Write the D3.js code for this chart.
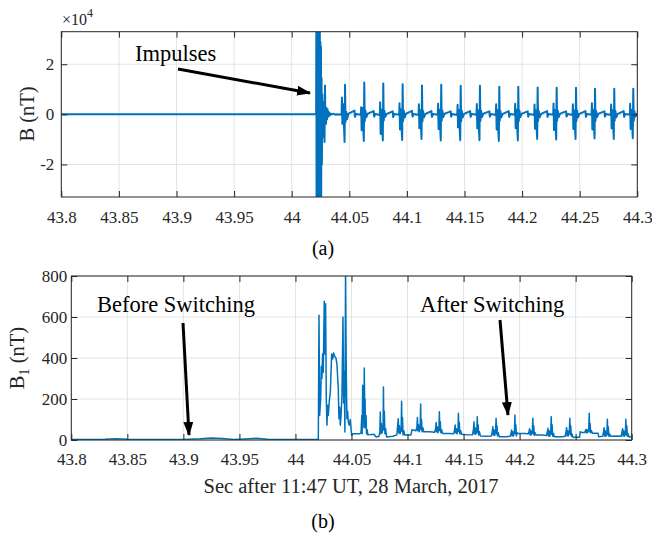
<!DOCTYPE html>
<html>
<head>
<meta charset="utf-8">
<script src="https://cdn.jsdelivr.net/npm/d3@7"></script>
<style>
body { margin: 0; background: #fff; }
</style>
</head>
<body>
<script>
// ---- data ----
var xTicks = [43.8, 43.85, 43.9, 43.95, 44, 44.05, 44.1, 44.15, 44.2, 44.25, 44.3];
var xTickLabels = ["43.8", "43.85", "43.9", "43.95", "44", "44.05", "44.1", "44.15", "44.2", "44.25", "44.3"];
var yTicksA = [-20000, 0, 20000];
var yTickLabelsA = ["-2", "0", "2"];
var yTicksB = [0, 200, 400, 600, 800];
var yTickLabelsB = ["0", "200", "400", "600", "800"];

// panel (a): B in nT, [time s, value]
var quietA = [[43.8, 0], [43.85, 0], [43.9, 0], [43.95, 0], [44.0, 0], [44.0212, 0]];
var burstA = [
  [44.0214, 38000], [44.0216, -39000], [44.0219, 40000], [44.0221, -40000], [44.0224, 39000],
  [44.0226, -40000], [44.0229, 40000], [44.0231, -39000], [44.0234, 40000], [44.0236, -40000],
  [44.0239, 38000], [44.0241, -40000], [44.0244, 36000], [44.0246, -38000], [44.0249, 29000],
  [44.0251, -37000], [44.0254, 27000], [44.0256, -33000], [44.0259, 14500], [44.0262, -20000],
  [44.0266, 8000], [44.0270, -9000], [44.0274, 4000], [44.0278, -7000], [44.0282, 5000],
  [44.0285, -11000], [44.0289, 11500], [44.0292, -3500], [44.0295, 2800], [44.0298, -3800],
  [44.0302, 2500], [44.0306, -2000], [44.0311, 2000], [44.0317, -1000], [44.0323, 800],
  [44.0330, -500], [44.0340, 300], [44.0350, 0], [44.0365, 200], [44.0380, -150], [44.0395, 0]
];
var cyclesA = [
  [44.0433, -200], [44.0436, 6700], [44.0440, -3800], [44.0447, 4000], [44.0459, -11000], [44.0463, 11800], [44.0467, -3000], [44.0473, 1000], [44.0480, -2000], [44.0493, 300], [44.0545, 1500], [44.0549, -1000], [44.0558, 100],
  [44.0600, -200], [44.0603, 2800], [44.0607, -6300], [44.0614, 2500], [44.0626, -10600], [44.0630, 12700], [44.0634, -2800], [44.0640, 1500], [44.0647, -1200], [44.0660, 300], [44.0712, 1300], [44.0716, -900], [44.0725, 100],
  [44.0765, -300], [44.0768, 4800], [44.0772, -7800], [44.0779, 1800], [44.0791, -10400], [44.0795, 12300], [44.0799, -2500], [44.0805, 1400], [44.0812, -1000], [44.0825, 200], [44.0877, 1200], [44.0881, -1100], [44.0890, 100],
  [44.0933, -200], [44.0936, 4400], [44.0940, -6000], [44.0947, 2000], [44.0959, -10200], [44.0963, 12000], [44.0967, -2600], [44.0973, 1500], [44.0980, -1300], [44.0993, 300], [44.1045, 1400], [44.1049, -900], [44.1058, 100],
  [44.1101, -300], [44.1104, 4000], [44.1108, -5500], [44.1115, 1600], [44.1127, -9800], [44.1131, 11500], [44.1135, -2800], [44.1141, 1300], [44.1148, -1200], [44.1161, 200], [44.1213, 1300], [44.1217, -1000], [44.1226, 100],
  [44.1268, -200], [44.1271, 4200], [44.1275, -5800], [44.1282, 1800], [44.1294, -10400], [44.1298, 11800], [44.1302, -2500], [44.1308, 1500], [44.1315, -1100], [44.1328, 300], [44.1380, 1200], [44.1384, -900], [44.1393, 100],
  [44.1437, -300], [44.1440, 3800], [44.1444, -5200], [44.1451, 1700], [44.1463, -10300], [44.1467, 11400], [44.1471, -2700], [44.1477, 1400], [44.1484, -1200], [44.1497, 200], [44.1549, 1300], [44.1553, -1000], [44.1562, 100],
  [44.1604, -200], [44.1607, 4100], [44.1611, -5600], [44.1618, 1500], [44.1630, -10300], [44.1634, 11400], [44.1638, -2600], [44.1644, 1400], [44.1651, -1100], [44.1664, 300], [44.1716, 1200], [44.1720, -900], [44.1729, 100],
  [44.1772, -300], [44.1775, 4000], [44.1779, -6000], [44.1786, 1700], [44.1798, -10600], [44.1802, 11000], [44.1806, -2500], [44.1812, 1300], [44.1819, -1200], [44.1832, 200], [44.1884, 1300], [44.1888, -1000], [44.1897, 100],
  [44.1937, -200], [44.1940, 4200], [44.1944, -5500], [44.1951, 1800], [44.1963, -10400], [44.1967, 11000], [44.1971, -2700], [44.1977, 1500], [44.1984, -1100], [44.1997, 300], [44.2049, 1200], [44.2053, -900], [44.2062, 100],
  [44.2105, -300], [44.2108, 3900], [44.2112, -5700], [44.2119, 1600], [44.2131, -9800], [44.2135, 10700], [44.2139, -2600], [44.2145, 1300], [44.2152, -1200], [44.2165, 200], [44.2217, 1300], [44.2221, -1000], [44.2230, 100],
  [44.2270, -200], [44.2273, 4300], [44.2277, -6200], [44.2284, 1700], [44.2296, -10000], [44.2300, 10600], [44.2304, -2500], [44.2310, 1400], [44.2317, -1100], [44.2330, 300], [44.2382, 1200], [44.2386, -900], [44.2395, 100],
  [44.2438, -300], [44.2441, 4000], [44.2445, -5800], [44.2452, 1500], [44.2464, -9800], [44.2468, 10600], [44.2472, -2700], [44.2478, 1500], [44.2485, -1200], [44.2498, 200], [44.2550, 1300], [44.2554, -1000], [44.2563, 100],
  [44.2603, -200], [44.2606, 4400], [44.2610, -6000], [44.2617, 1800], [44.2629, -9600], [44.2633, 10200], [44.2637, -2600], [44.2643, 1300], [44.2650, -1100], [44.2663, 300], [44.2715, 1200], [44.2719, -900], [44.2728, 100],
  [44.2770, -300], [44.2773, 3900], [44.2777, -5600], [44.2784, 1600], [44.2796, -9800], [44.2800, 10200], [44.2804, -2500], [44.2810, 1400], [44.2817, -1200], [44.2830, 200], [44.2882, 1300], [44.2886, -1000], [44.2895, 100],
  [44.2935, -200], [44.2938, 4200], [44.2942, -5800], [44.2949, 1700], [44.2961, -9500], [44.2965, 10200], [44.2969, -2600], [44.2975, 1200], [44.2982, -1000], [44.2995, 200], [44.3000, 0]
];

// panel (b): B1 in nT, [time s, value]
var quietB = [[43.80, 3], [43.83, 4], [43.84, 6], [43.85, 4], [43.87, 3], [43.90, 3], [43.915, 6], [43.925, 10],
  [43.935, 7], [43.945, 3], [43.955, 5], [43.965, 8], [43.975, 4], [44.00, 2], [44.0204, 3]];
var burstB = [
  [44.0210, 608], [44.0216, 120], [44.0225, 201], [44.0231, 360], [44.0236, 300], [44.0242, 420],
  [44.0248, 330], [44.0257, 677], [44.0263, 420], [44.0269, 665], [44.0275, 200], [44.0281, 72],
  [44.0287, 170], [44.0293, 120], [44.0302, 190], [44.0311, 234], [44.0323, 420], [44.0332, 395],
  [44.0340, 425], [44.0352, 405], [44.0361, 400], [44.0370, 372], [44.0382, 250], [44.0388, 104],
  [44.0394, 160], [44.0400, 72], [44.0406, 110], [44.0415, 220], [44.0424, 600], [44.0430, 180],
  [44.0435, 332], [44.0441, 39], [44.0447, 830], [44.0453, 348], [44.0459, 104], [44.0465, 140],
  [44.0471, 90], [44.0480, 72], [44.0489, 100], [44.0501, 24], [44.0516, 31], [44.0575, 31]
];
var cyclesB = [
  [44.0585, 35], [44.0592, 120], [44.0595, 30], [44.0600, 267], [44.0604, 90], [44.0608, 180], [44.0611, 60], [44.0614, 351], [44.0618, 150], [44.0621, 200], [44.0625, 60], [44.0630, 120], [44.0634, 30], [44.0640, 50], [44.0646, 25], [44.0700, 28],
  [44.0720, 15], [44.0745, 18], [44.0753, 40], [44.0757, 137], [44.0761, 30], [44.0767, 80], [44.0773, 35], [44.0782, 60], [44.0785, 258], [44.0789, 50], [44.0793, 140], [44.0798, 30], [44.0805, 55], [44.0813, 15],
  [44.0870, 18], [44.0905, 25], [44.0912, 72], [44.0917, 104], [44.0921, 35], [44.0927, 70], [44.0933, 30], [44.0943, 60], [44.0947, 189], [44.0951, 40], [44.0955, 110], [44.0960, 25], [44.0967, 45], [44.0975, 25],
  [44.1030, 25], [44.1040, 50], [44.1075, 45], [44.1083, 60], [44.1088, 110], [44.1092, 45], [44.1098, 75], [44.1104, 40], [44.1113, 70], [44.1117, 176], [44.1121, 50], [44.1125, 100], [44.1130, 40], [44.1137, 60], [44.1145, 40],
  [44.1200, 40], [44.1242, 38], [44.1250, 55], [44.1255, 85], [44.1259, 40], [44.1265, 65], [44.1271, 35], [44.1280, 60], [44.1284, 138], [44.1288, 45], [44.1292, 90], [44.1297, 35], [44.1304, 50], [44.1312, 32],
  [44.1370, 32], [44.1412, 30], [44.1420, 50], [44.1425, 73], [44.1429, 35], [44.1435, 55], [44.1441, 30], [44.1450, 55], [44.1454, 130], [44.1458, 40], [44.1462, 85], [44.1467, 30], [44.1474, 45], [44.1482, 28],
  [44.1540, 25], [44.1580, 26], [44.1588, 50], [44.1593, 89], [44.1597, 30], [44.1603, 60], [44.1609, 28], [44.1618, 50], [44.1622, 114], [44.1626, 35], [44.1630, 75], [44.1635, 25], [44.1642, 40], [44.1650, 20],
  [44.1700, 18], [44.1748, 20], [44.1756, 40], [44.1761, 65], [44.1765, 25], [44.1771, 50], [44.1777, 22], [44.1786, 45], [44.1790, 106], [44.1794, 30], [44.1798, 70], [44.1803, 20], [44.1810, 35], [44.1818, 16],
  [44.1870, 16], [44.1916, 18], [44.1924, 35], [44.1929, 49], [44.1933, 20], [44.1939, 40], [44.1945, 20], [44.1954, 45], [44.1958, 122], [44.1962, 30], [44.1966, 75], [44.1971, 20], [44.1978, 35], [44.1986, 32],
  [44.2040, 32], [44.2076, 30], [44.2084, 40], [44.2089, 55], [44.2093, 25], [44.2099, 45], [44.2105, 25], [44.2114, 45], [44.2118, 106], [44.2122, 30], [44.2126, 70], [44.2131, 22], [44.2138, 35], [44.2146, 24],
  [44.2200, 24], [44.2240, 22], [44.2248, 40], [44.2253, 57], [44.2257, 20], [44.2263, 45], [44.2269, 18], [44.2278, 45], [44.2282, 114], [44.2286, 28], [44.2290, 75], [44.2295, 18], [44.2302, 32], [44.2310, 16],
  [44.2380, 16], [44.2406, 18], [44.2414, 40], [44.2419, 60], [44.2423, 20], [44.2429, 45], [44.2435, 20], [44.2444, 45], [44.2448, 106], [44.2452, 28], [44.2456, 70], [44.2461, 18], [44.2468, 30], [44.2476, 14],
  [44.2535, 14], [44.2540, 40], [44.2560, 36],
  [44.2579, 36], [44.2587, 45], [44.2592, 52], [44.2596, 35], [44.2602, 50], [44.2608, 36], [44.2617, 55], [44.2621, 130], [44.2625, 40], [44.2629, 80], [44.2634, 35], [44.2641, 45], [44.2649, 33],
  [44.2700, 33], [44.2705, 16], [44.2741, 18], [44.2749, 40], [44.2754, 60], [44.2758, 20], [44.2764, 45], [44.2770, 18], [44.2779, 40], [44.2783, 101], [44.2787, 25], [44.2791, 65], [44.2796, 18], [44.2803, 30], [44.2811, 18],
  [44.2870, 20], [44.2906, 18], [44.2914, 40], [44.2919, 55], [44.2923, 20], [44.2929, 45], [44.2935, 18], [44.2944, 40], [44.2948, 101], [44.2952, 25], [44.2956, 70], [44.2961, 18], [44.2968, 30], [44.2976, 15], [44.3000, 16]
];

var seriesA = quietA.concat(burstA, cyclesA);
var seriesB = quietB.concat(burstB, cyclesB);

// ---- drawing ----
var blue = "#0072BD", axisCol = "#262626", gridCol = "#e3e3e3";
var serif = "'Liberation Serif', 'Times New Roman', serif";

var svg = d3.select("body").append("svg")
  .attr("width", 652)
  .attr("height", 536)
  .attr("font-family", serif);

var defs = svg.append("defs");
defs.append("marker")
  .attr("id", "head")
  .attr("markerUnits", "userSpaceOnUse")
  .attr("viewBox", "0 0 14 10")
  .attr("refX", 13).attr("refY", 5)
  .attr("markerWidth", 14).attr("markerHeight", 10)
  .attr("orient", "auto")
  .append("path").attr("d", "M0,0 L14,5 L0,10 Z").attr("fill", "#000");

function drawPanel(id, x, y, yTicks, yLabels, data, lw) {
  var x0 = x.range()[0], x1 = x.range()[1], y0 = y.range()[1], y1 = y.range()[0];
  var g = svg.append("g");

  defs.append("clipPath").attr("id", "clip" + id)
    .append("rect").attr("x", x0).attr("y", y0).attr("width", x1 - x0).attr("height", y1 - y0);

  // grid
  g.selectAll(".gx").data(xTicks).enter().append("line")
    .attr("x1", function (d) { return x(d); }).attr("x2", function (d) { return x(d); })
    .attr("y1", y0).attr("y2", y1)
    .attr("stroke", gridCol).attr("stroke-width", 1);
  g.selectAll(".gy").data(yTicks).enter().append("line")
    .attr("x1", x0).attr("x2", x1)
    .attr("y1", function (d) { return y(d); }).attr("y2", function (d) { return y(d); })
    .attr("stroke", gridCol).attr("stroke-width", 1);

  // signal
  var line = d3.line().x(function (d) { return x(d[0]); }).y(function (d) { return y(d[1]); });
  g.append("path").datum(data)
    .attr("clip-path", "url(#clip" + id + ")")
    .attr("d", line)
    .attr("fill", "none")
    .attr("stroke", blue)
    .attr("stroke-width", lw)
    .attr("stroke-linejoin", "round");

  // axes, ticks pointing inward (matlab style)
  var bottom = g.append("g").attr("transform", "translate(0," + y1 + ")")
    .call(d3.axisBottom(x).tickValues(xTicks).tickSize(-6).tickPadding(id == "a" ? 14 : 13)
      .tickFormat(function (d, i) { return xTickLabels[i]; }));
  var top = g.append("g").attr("transform", "translate(0," + y0 + ")")
    .call(d3.axisTop(x).tickValues(xTicks).tickSize(-6).tickFormat(""));
  var left = g.append("g").attr("transform", "translate(" + x0 + ",0)")
    .call(d3.axisLeft(y).tickValues(yTicks).tickSize(-6).tickPadding(id == "a" ? 7 : 4)
      .tickFormat(function (d, i) { return yLabels[i]; }));
  var right = g.append("g").attr("transform", "translate(" + x1 + ",0)")
    .call(d3.axisRight(y).tickValues(yTicks).tickSize(-6).tickFormat(""));

  [bottom, top, left, right].forEach(function (a) {
    a.attr("font-family", serif).attr("font-size", 17);
    a.select(".domain").remove();
    a.selectAll("line").attr("stroke", axisCol);
    a.selectAll("text").attr("fill", axisCol);
  });

  g.append("rect").attr("x", x0).attr("y", y0).attr("width", x1 - x0).attr("height", y1 - y0)
    .attr("fill", "none").attr("stroke", axisCol).attr("stroke-width", 1);
  return g;
}

var xA = d3.scaleLinear().domain([43.8, 44.3]).range([61.3, 637.3]);
var yA = d3.scaleLinear().domain([-33000, 33000]).range([197, 31.7]);
var xB = d3.scaleLinear().domain([43.8, 44.3]).range([71.3, 631.7]);
var yB = d3.scaleLinear().domain([0, 800]).range([440, 276]);

drawPanel("a", xA, yA, yTicksA, yTickLabelsA, seriesA, 2);
drawPanel("b", xB, yB, yTicksB, yTickLabelsB, seriesB, 1.5);

// exponent label
var ex = svg.append("text").attr("x", 62).attr("y", 25).attr("font-size", 16).attr("fill", axisCol);
ex.append("tspan").text("\u00d710");
ex.append("tspan").attr("font-size", 12).attr("dy", -8).text("4");

// axis labels
svg.append("text").attr("transform", "translate(34,114) rotate(-90)")
  .attr("text-anchor", "middle").attr("font-size", 20.5).attr("fill", axisCol).text("B (nT)");
var yl = svg.append("text").attr("transform", "translate(24,358) rotate(-90)")
  .attr("text-anchor", "middle").attr("font-size", 20.5).attr("fill", axisCol);
yl.append("tspan").text("B");
yl.append("tspan").attr("font-size", 14).attr("dy", 5).text("1");
yl.append("tspan").attr("dy", -5).text(" (nT)");
svg.append("text").attr("x", 351).attr("y", 493).attr("text-anchor", "middle")
  .attr("font-size", 20.5).attr("fill", axisCol).text("Sec after 11:47 UT, 28 March, 2017");

// panel captions
svg.append("text").attr("x", 323).attr("y", 255).attr("text-anchor", "middle")
  .attr("font-size", 20).attr("fill", "#000").text("(a)");
svg.append("text").attr("x", 323).attr("y", 528).attr("text-anchor", "middle")
  .attr("font-size", 20).attr("fill", "#000").text("(b)");

// annotations
var notes = [
  { text: "Impulses", tx: 135, ty: 61, x1: 178, y1: 69, x2: 310, y2: 93 },
  { text: "Before Switching", tx: 97, ty: 312, x1: 183, y1: 323, x2: 189, y2: 435 },
  { text: "After Switching", tx: 420, ty: 312, x1: 500, y1: 320, x2: 508, y2: 415 }
];
notes.forEach(function (n) {
  svg.append("text").attr("x", n.tx).attr("y", n.ty).attr("font-size", 22.5)
    .attr("fill", "#000").text(n.text);
  svg.append("line").attr("x1", n.x1).attr("y1", n.y1).attr("x2", n.x2).attr("y2", n.y2)
    .attr("stroke", "#000").attr("stroke-width", 3).attr("marker-end", "url(#head)");
});
</script>
</body>
</html>
